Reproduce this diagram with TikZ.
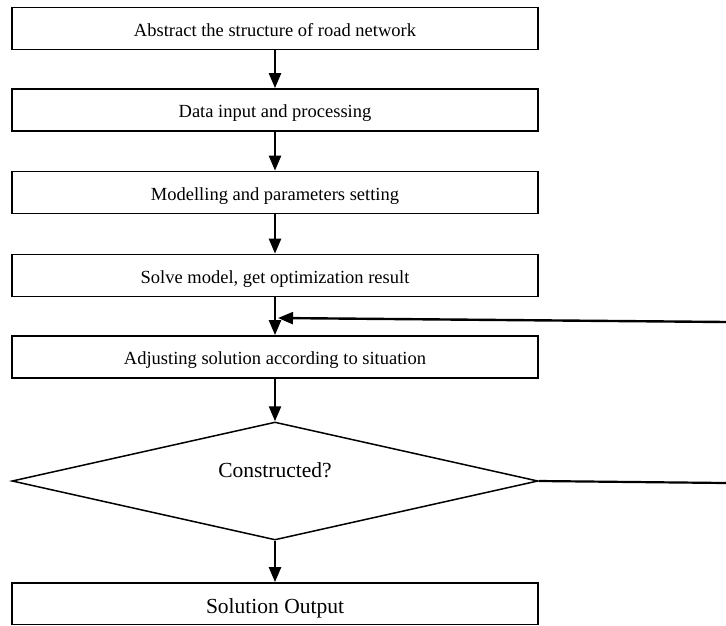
\documentclass[tikz,border=0pt]{standalone}
\usepackage{fontspec}
\setmainfont{Liberation Serif}
\usetikzlibrary{arrows.meta,shapes.geometric}
\begin{document}
\begin{tikzpicture}[x=1pt,y=-1pt,
 stepbox/.style={draw,line width=1.7pt,minimum width=526pt,minimum height=42pt,inner sep=0pt,text height=15.2pt,text depth=0pt,font=\fontsize{18.5}{20}\selectfont},
 decide/.style={draw,diamond,line width=1.5pt,minimum width=526pt,minimum height=118pt,inner sep=0pt},
 bigtext/.style={font=\fontsize{21.5}{24}\selectfont,inner sep=0pt},
 flow/.style={line width=2.4pt,-{Triangle[length=15pt,width=12pt]}},
 plainline/.style={line width=2.2pt}]
\clip (0,0) rectangle (726,625);
\node[stepbox] (b1) at (275,28.5) {Abstract the structure of road network};
\node[stepbox] (b2) at (275,110) {Data input and processing};
\node[stepbox] (b3) at (275,192.5) {Modelling and parameters setting};
\node[stepbox] (b4) at (275,275.5) {Solve model, get optimization result};
\node[stepbox] (b5) at (275,357) {Adjusting solution according to situation};
\node[decide] (d) at (275,481) {};
\node[bigtext] (dt) at (275,470) {Constructed?};
\node[stepbox,minimum height=41.5pt,text height=19pt,font=\fontsize{21.5}{24}\selectfont] (b6) at (275,603.75) {Solution Output};
\draw[flow] (b1) -- (b2);
\draw[flow] (b2) -- (b3);
\draw[flow] (b3) -- (b4);
\draw[flow] (b4) -- (b5);
\draw[flow] (b5) -- (d.north);
\draw[flow] (d.south) -- (b6);
\coordinate (fbR) at (726,322);
\coordinate (fbT) at (278,318);
\draw[flow] (fbR) -- (fbT);
\coordinate (dR) at (726,483);
\draw[plainline] (d.east) -- (dR);
\end{tikzpicture}
\end{document}
